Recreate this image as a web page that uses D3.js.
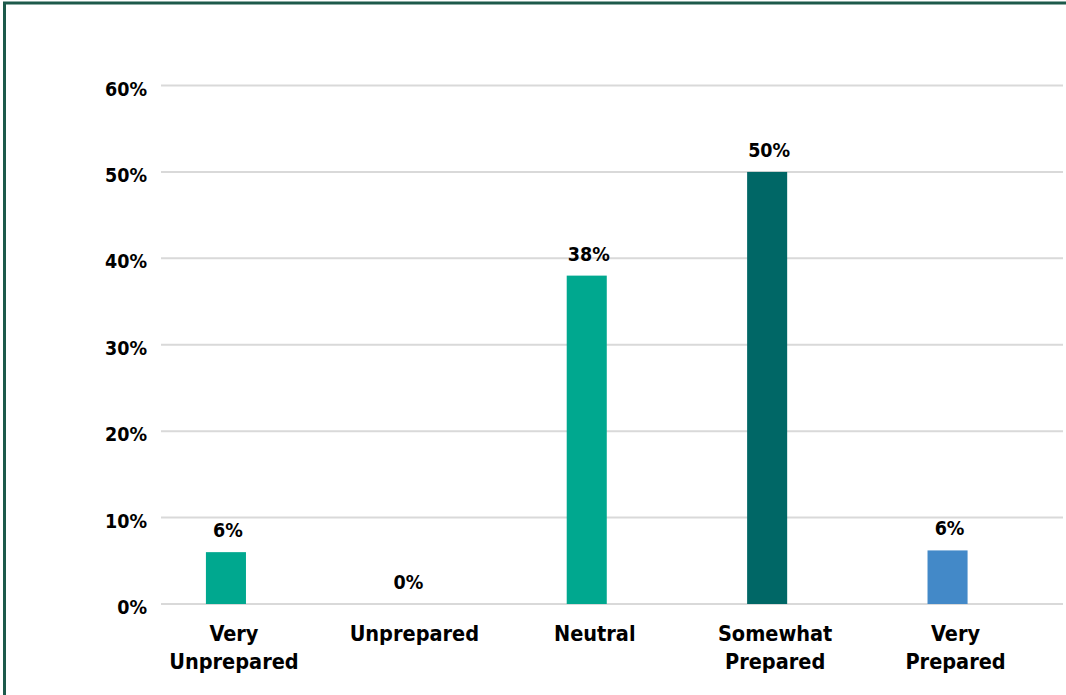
<!DOCTYPE html>
<html>
<head>
<meta charset="utf-8">
<script src="https://cdn.jsdelivr.net/npm/d3@7"></script>
<style>
  html, body { margin: 0; padding: 0; background: #ffffff; overflow: hidden; }
  text { font-family: 'DejaVu Sans Condensed', 'DejaVu Sans', sans-serif; font-stretch: condensed; font-weight: bold; fill: #000; }
</style>
</head>
<body>
<svg id="chart" width="1066" height="695"></svg>
<script>
const categories = [["Very", "Unprepared"], ["Unprepared"], ["Neutral"], ["Somewhat", "Prepared"], ["Very", "Prepared"]];
const values = [6, 0, 38, 50, 6.2];
const valueLabels = ["6%", "0%", "38%", "50%", "6%"];
const barColors = ["#00A88F", "#00A88F", "#00A88F", "#006766", "#4389C8"];
const yTicks = [0, 10, 20, 30, 40, 50, 60];

const W = 1066, H = 695;
const svg = d3.select("#chart");

// frame
svg.append("rect").attr("x", 0).attr("y", 0).attr("width", W).attr("height", H).attr("fill", "#fff");
svg.append("rect").attr("x", 4.5).attr("y", 3).attr("width", 1200).attr("height", 800)
  .attr("fill", "none").attr("stroke", "#1d5a4b").attr("stroke-width", 3);

const keys = categories.map((c, i) => i);
const x = d3.scaleBand().domain(keys).range([161, 1063]).padding(0);
const y = d3.scaleLinear().domain([0, 60]).range([604, 85.5]);

const bw = x.bandwidth();
const barOff = bw * 0.249, barW = bw * 0.222;

// gridlines
svg.append("g").selectAll("line").data(yTicks).join("line")
  .attr("x1", 161).attr("x2", 1063)
  .attr("y1", d => y(d)).attr("y2", d => y(d))
  .attr("stroke", "#d9d9d9").attr("stroke-width", 2);

// y tick labels
svg.append("g").selectAll("text").data(yTicks).join("text")
  .attr("x", 147).attr("y", d => y(d) + 10)
  .attr("text-anchor", "end").attr("font-size", 19.5)
  .text(d => d + "%");

// bars
svg.append("g").selectAll("rect").data(values).join("rect")
  .attr("x", (d, i) => x(i) + barOff)
  .attr("width", barW)
  .attr("y", d => y(d))
  .attr("height", d => y(0) - y(d))
  .attr("fill", (d, i) => barColors[i]);

// value labels
svg.append("g").selectAll("text").data(values).join("text")
  .attr("x", (d, i) => x(i) + barOff + barW / 2 + 2)
  .attr("y", d => y(d) - 15)
  .attr("text-anchor", "middle").attr("font-size", 19.5)
  .text((d, i) => valueLabels[i]);

// category labels
const cat = svg.append("g").selectAll("text").data(categories).join("text")
  .attr("text-anchor", "middle").attr("font-size", 21.5)
  .attr("transform", (d, i) => `translate(${x(i) + barOff + barW / 2 + 8},641)`);
cat.selectAll("tspan").data(d => d).join("tspan")
  .attr("x", 0).attr("y", (d, j) => j * 28)
  .text(d => d);
</script>
</body>
</html>
